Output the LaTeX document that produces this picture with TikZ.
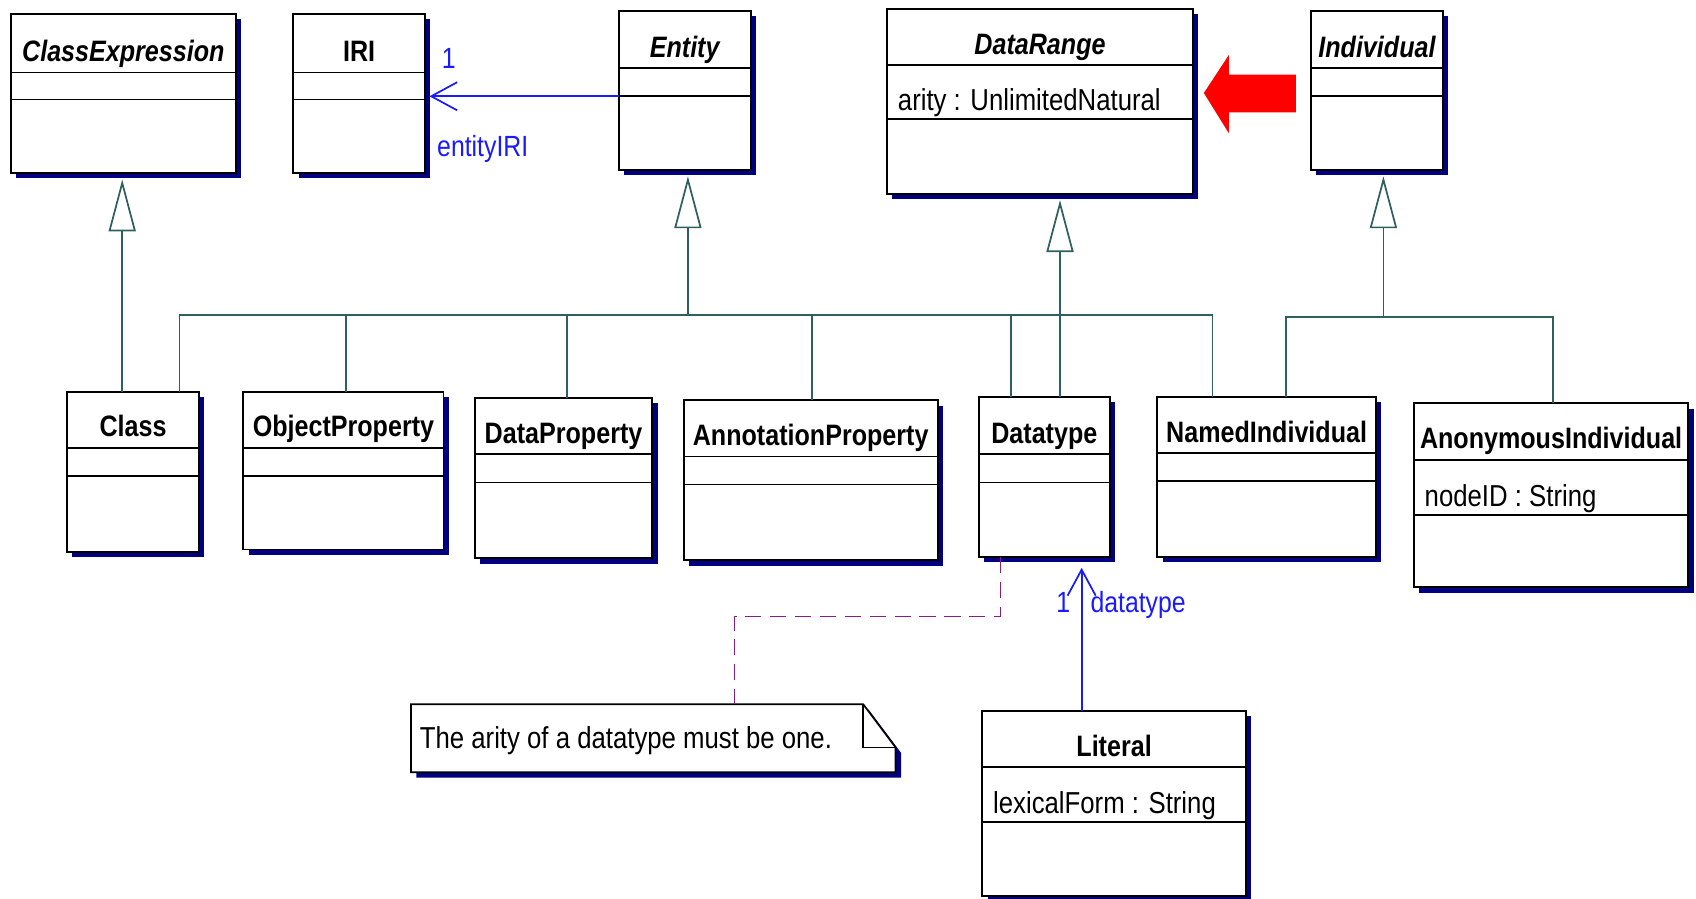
\documentclass[tikz,border=0pt]{standalone}
\usepackage{fontspec}
\setmainfont{Liberation Sans}[FakeStretch=0.85]
\usetikzlibrary{arrows.meta}
\definecolor{shadowc}{HTML}{000080}
\definecolor{genc}{HTML}{2F5F5F}
\definecolor{assocc}{HTML}{1A1AFF}
\definecolor{notec}{HTML}{8B1A8B}
\definecolor{arrowred}{HTML}{FF0000}
\newcommand\umlclass[9]{%
  \fill[shadowc] (#2+5,#3+5) rectangle (#4+5,#5+5);
  \node[umlbox, minimum width={(#4-#2)*1pt}, minimum height={(#5-#3)*1pt}, anchor=north west] (#1) at (#2,#3) {};
  \draw[divline] (#2,#6) -- (#4,#6) (#2,#7) -- (#4,#7);
  \node[titletext, anchor=base] (#1-t) at ({(#2+#4)/2},#6-10) {#8};
  \node[attrtext, anchor=base west] (#1-a) at (#2+10,#7-8) {#9};
}
\begin{document}
\begin{tikzpicture}[x=1pt,y=-1pt,
  umlbox/.style={draw=black, line width=1.8pt, fill=white, inner sep=0pt, outer sep=0pt},
  divline/.style={draw=black, line width=1.6pt},
  titletext/.style={font=\fontsize{27.3}{30}\selectfont\bfseries, inner sep=0pt},
  attrtext/.style={font=\fontsize{28}{30}\selectfont, inner sep=0pt},
  bluetext/.style={font=\fontsize{27}{29}\selectfont, text=assocc, inner sep=0pt},
  genline/.style={draw=genc, line width=1.6pt},
  gentip/.style={-{Triangle[length=48pt, width=25pt, fill=white, line width=1.6pt]}},
  assoc/.style={draw=assocc, line width=1.6pt, -{Straight Barb[length=24pt, width=26pt, line width=1.6pt]}},
  notelink/.style={draw=notec, line width=1.6pt, dash pattern=on 15pt off 8pt}]
\useasboundingbox (0,0) rectangle (1568,831);

% classes
\umlclass{CE}{10}{13}{218}{160}{67}{92}{\itshape ClassExpression}{}
\umlclass{IRI}{271}{13}{393}{160}{67}{92}{IRI}{}
\umlclass{Entity}{572}{10}{694}{157}{63}{89}{\itshape Entity}{}
\umlclass{DataRange}{820}{8}{1103}{179}{60}{110}{\itshape DataRange}{arity : UnlimitedNatural}
\umlclass{Individual}{1212}{10}{1334}{157}{63}{89}{\itshape Individual}{}
\umlclass{Class}{62}{362}{184}{510}{414}{440}{Class}{}
\umlclass{ObjectProperty}{225}{362}{410}{508}{414}{440}{ObjectProperty}{}
\umlclass{DataProperty}{439}{368}{603}{516}{420}{446}{DataProperty}{}
\umlclass{AnnotationProperty}{632}{370}{867}{518}{422}{448}{AnnotationProperty}{}
\umlclass{Datatype}{905}{367}{1026}{515}{420}{446}{Datatype}{}
\umlclass{NamedIndividual}{1070}{367}{1272}{515}{419}{445}{NamedIndividual}{}
\umlclass{AnonymousIndividual}{1307}{373}{1561}{543}{425}{476}{AnonymousIndividual}{nodeID : String}
\umlclass{Literal}{908}{657}{1152}{828}{709}{760}{Literal}{lexicalForm : String}

% note
\fill[shadowc] (385,656) -- (803,656) -- (833,696) -- (833,719) -- (385,719) -- cycle;
\fill[white, draw=black, line width=1.6pt] (380,651) -- (798,651) -- (828,691) -- (828,714) -- (380,714) -- cycle;
\draw[black, line width=1.6pt] (798,651) -- (798,691) -- (828,691);
\node[attrtext, anchor=base west] (note) at (388,692) {The arity of a datatype must be one.};
\coordinate (notetop) at (679,651);

% red arrow
\fill[arrowred] (1113,86) -- (1136,51) -- (1136,69) -- (1198,69) -- (1198,104) -- (1136,104) -- (1136,123) -- cycle;

% generalizations
\draw[genline, gentip] (Class.north -| 113,0) -- ([yshift=-6pt]CE.south -| 113,0);

\coordinate (eb) at (636,291);
\draw[genline, gentip] (eb) -- ([yshift=-6pt]Entity.south -| 636,0);
\draw[genline] (Class.north -| 166,0) |- (eb);
\draw[genline] (ObjectProperty.north -| 320,0) |- (eb);
\draw[genline] (DataProperty.north -| 524,0) |- (eb);
\draw[genline] (AnnotationProperty.north -| 751,0) |- (eb);
\draw[genline] (Datatype.north -| 935,0) |- (eb);
\draw[genline] (NamedIndividual.north -| 1121,0) |- (eb);

\draw[genline, gentip] (Datatype.north -| 980,0) -- ([yshift=-6pt]DataRange.south -| 980,0);

\coordinate (ib) at (1279,293);
\draw[genline, gentip] (ib) -- ([yshift=-6pt]Individual.south -| 1279,0);
\draw[genline] (NamedIndividual.north -| 1189,0) |- (ib);
\draw[genline] (AnonymousIndividual.north -| 1436,0) |- (ib);

% associations
\draw[assoc] (Entity.west |- 0,89) -- ([xshift=4pt]IRI.east |- 0,89);
\node[bluetext, anchor=base] (m1) at (415,63) {1};
\node[bluetext, anchor=base west] (r1) at (404,145) {entityIRI};

\draw[assoc] (Literal.north -| 1000,0) -- ([yshift=-10pt]Datatype.south -| 1000,0);
\node[bluetext, anchor=base] (m2) at (983,566) {1};
\node[bluetext, anchor=base west] (r2) at (1008,566) {datatype};

% note link
\coordinate (nb) at (679,570);
\draw[notelink] (Datatype.south -| 925,0) |- (nb) -- (notetop);
\end{tikzpicture}
\end{document}
